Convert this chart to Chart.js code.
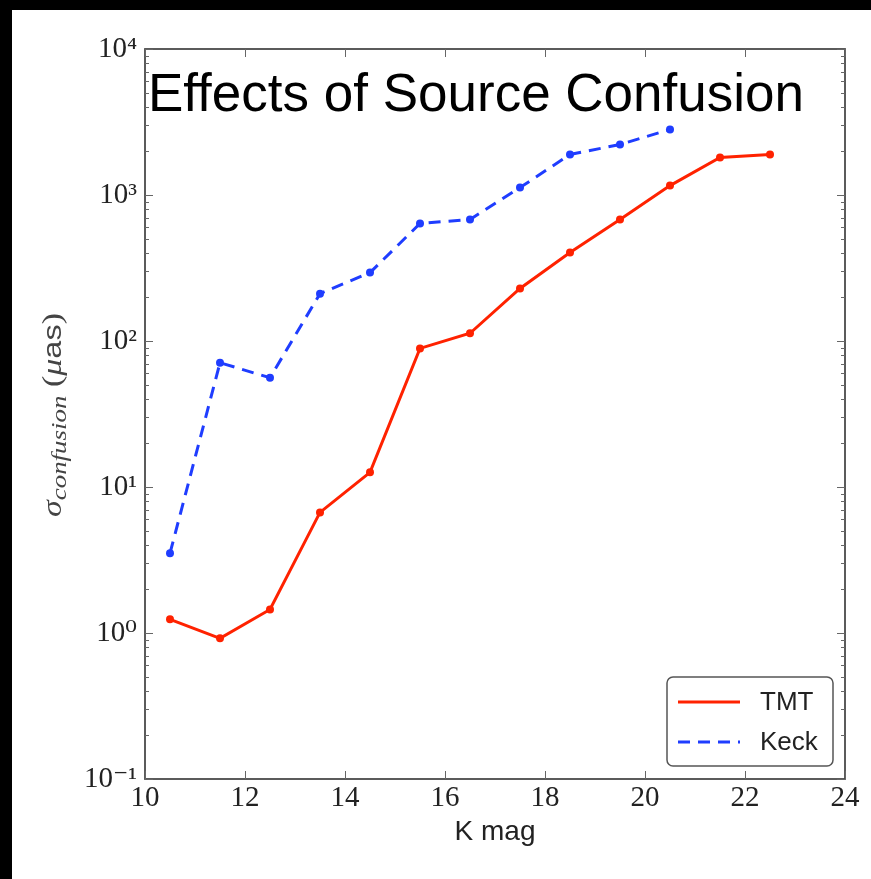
<!DOCTYPE html>
<html>
<head>
<meta charset="utf-8">
<script src="https://cdn.jsdelivr.net/npm/chart.js@4/dist/chart.umd.min.js"></script>
<style>
  html, body { margin: 0; padding: 0; background: #fff; }
  #wrap { position: relative; width: 871px; height: 879px; overflow: hidden; }
  #bt { position: absolute; left: 0; top: 0; width: 871px; height: 10px; background: #000; }
  #bl { position: absolute; left: 0; top: 0; width: 12px; height: 879px; background: #000; }
  canvas { position: absolute; left: 0; top: 0; }
</style>
</head>
<body>
<div id="wrap">
  <canvas id="c" width="871" height="879"></canvas>
  <div id="bt"></div>
  <div id="bl"></div>
</div>
<script>
// ---- data ----
const titleText = "Effects of Source Confusion";
const xLabel = "K mag";
const kmag = [10.5, 11.5, 12.5, 13.5, 14.5, 15.5, 16.5, 17.5, 18.5, 19.5, 20.5, 21.5, 22.5];
const tmt  = [1.24, 0.92, 1.45, 6.7, 12.6, 89, 113, 229, 404, 680, 1160, 1807, 1893];
const keck = [3.52, 71, 56, 211, 294, 638, 680, 1125, 1893, 2218, 2812];
const seriesNames = ["TMT", "Keck"];
const yTickValues = [0.1, 1, 10, 100, 1000, 10000];
const yTickLabels = ["10\u207B\u00B9", "10\u2070", "10\u00B9", "10\u00B2", "10\u00B3", "10\u2074"];
const xTicks = [10, 12, 14, 16, 18, 20, 22, 24];

const RED = '#ff2200';
const BLUE = '#1f3dff';

const framePlugin = {
  id: 'frame',
  afterDatasetsDraw(chart) {
    const ctx = chart.ctx, a = chart.chartArea;
    const xs = chart.scales.x, ys = chart.scales.y;
    ctx.save();
    ctx.strokeStyle = '#4a4a4a';
    ctx.lineWidth = 1.8;
    ctx.strokeRect(a.left, a.top, a.right - a.left, a.bottom - a.top);
    ctx.lineWidth = 1;
    ctx.strokeStyle = '#666';
    ctx.beginPath();
    xTicks.forEach(v => {
      const px = Math.round(xs.getPixelForValue(v)) + 0.5;
      ctx.moveTo(px, a.bottom); ctx.lineTo(px, a.bottom - 8);
      ctx.moveTo(px, a.top); ctx.lineTo(px, a.top + 8);
    });
    for (let e = -1; e <= 4; e++) {
      for (let m = 1; m <= 9; m++) {
        const v = m * Math.pow(10, e);
        if (v > 10000 + 1e-9) continue;
        const py = Math.round(ys.getPixelForValue(v)) + 0.5;
        const len = (m === 1) ? 8 : 4;
        ctx.moveTo(a.left, py); ctx.lineTo(a.left + len, py);
        ctx.moveTo(a.right, py); ctx.lineTo(a.right - len, py);
      }
    }
    ctx.stroke();
    ctx.restore();
  },
  afterDraw(chart) {
    const ctx = chart.ctx;
    ctx.save();
    // title inside plot
    ctx.fillStyle = '#000';
    ctx.font = '53px "Liberation Sans", Arial, sans-serif';
    ctx.textBaseline = 'alphabetic';
    ctx.textAlign = 'left';
    ctx.fillText(titleText, 148, 111);

    // legend
    const lx = 667, ly = 677, lw = 166, lh = 89, r = 6;
    ctx.beginPath();
    ctx.moveTo(lx + r, ly);
    ctx.arcTo(lx + lw, ly, lx + lw, ly + lh, r);
    ctx.arcTo(lx + lw, ly + lh, lx, ly + lh, r);
    ctx.arcTo(lx, ly + lh, lx, ly, r);
    ctx.arcTo(lx, ly, lx + lw, ly, r);
    ctx.closePath();
    ctx.fillStyle = '#fff';
    ctx.fill();
    ctx.strokeStyle = '#555';
    ctx.lineWidth = 1.5;
    ctx.stroke();
    const rows = [702, 742];
    chart.data.datasets.forEach((ds, i) => {
      ctx.beginPath();
      ctx.strokeStyle = ds.borderColor;
      ctx.lineWidth = 3;
      ctx.setLineDash(ds.borderDash || []);
      ctx.moveTo(678, rows[i]); ctx.lineTo(740, rows[i]);
      ctx.stroke();
      ctx.setLineDash([]);
      ctx.fillStyle = '#222';
      ctx.font = '26px "Liberation Sans", Arial, sans-serif';
      ctx.textBaseline = 'middle';
      ctx.fillText(ds.label, 760, rows[i] + 1);
    });

    // y-axis label: sigma_confusion (mu as), rotated
    ctx.translate(52, 415);
    ctx.rotate(-Math.PI / 2);
    const parts = [
      { t: 'σ', f: 'italic 24px "Liberation Serif", serif', dy: 0 },
      { t: 'confusion', f: 'italic 19px "Liberation Serif", serif', dy: 5 },
      { t: ' (', f: '24px "Liberation Serif", serif', dy: 0 },
      { t: 'μ', f: 'italic 24px "Liberation Serif", serif', dy: 0 },
      { t: 'as', f: '23px "Liberation Sans", sans-serif', dy: 0 },
      { t: ')', f: '24px "Liberation Serif", serif', dy: 0 }
    ];
    let total = 0;
    parts.forEach(p => { ctx.font = p.f; p.w = ctx.measureText(p.t).width; total += p.w; });
    const k = 204 / total;
    ctx.scale(k, k * 0.78);
    let xpos = -total / 2;
    ctx.fillStyle = '#444';
    ctx.textBaseline = 'alphabetic';
    parts.forEach(p => {
      ctx.font = p.f;
      ctx.fillText(p.t, xpos, 8 + p.dy);
      xpos += p.w;
    });
    ctx.restore();
  }
};

new Chart(document.getElementById('c'), {
  type: 'line',
  data: {
    datasets: [
      {
        label: seriesNames[0],
        data: kmag.map((x, i) => ({ x: x, y: tmt[i] })),
        borderColor: RED,
        backgroundColor: RED,
        borderWidth: 3,
        pointRadius: 4,
        pointBorderWidth: 0,
        tension: 0,
        fill: false
      },
      {
        label: seriesNames[1],
        data: kmag.slice(0, keck.length).map((x, i) => ({ x: x, y: keck[i] })),
        borderColor: BLUE,
        backgroundColor: BLUE,
        borderWidth: 3,
        borderDash: [12, 8],
        pointRadius: 4,
        pointBorderWidth: 0,
        tension: 0,
        fill: false
      }
    ]
  },
  options: {
    responsive: false,
    animation: false,
    devicePixelRatio: 1,
    layout: { padding: { left: 0, top: 49, right: 26, bottom: 0 } },
    plugins: {
      legend: { display: false },
      title: { display: false },
      tooltip: { enabled: false }
    },
    scales: {
      x: {
        type: 'linear',
        min: 10, max: 24,
        afterBuildTicks: s => { s.ticks = xTicks.map(v => ({ value: v })); },
        afterFit: s => { s.height = 100; },
        grid: { display: false, drawTicks: false },
        border: { display: false },
        ticks: {
          padding: 2,
          color: '#222',
          font: { family: '"Liberation Serif", "DejaVu Serif", serif', size: 29 },
          maxRotation: 0,
          autoSkip: false
        },
        title: {
          display: true,
          text: xLabel,
          color: '#222',
          font: { family: '"Liberation Sans", Arial, sans-serif', size: 28 },
          padding: { top: 4, bottom: 30 }
        }
      },
      y: {
        type: 'logarithmic',
        min: 0.1, max: 10000,
        afterBuildTicks: s => { s.ticks = yTickValues.map(v => ({ value: v })); },
        afterFit: s => { s.width = 145; },
        grid: { display: false, drawTicks: false },
        border: { display: false },
        ticks: {
          padding: 8,
          color: '#222',
          font: { family: '"Liberation Serif", "DejaVu Serif", serif', size: 29 },
          autoSkip: false,
          callback: (v) => {
            const i = yTickValues.findIndex(t => Math.abs(t - v) / t < 1e-6);
            return i >= 0 ? yTickLabels[i] : '';
          }
        }
      }
    }
  },
  plugins: [framePlugin]
});
</script>
</body>
</html>
